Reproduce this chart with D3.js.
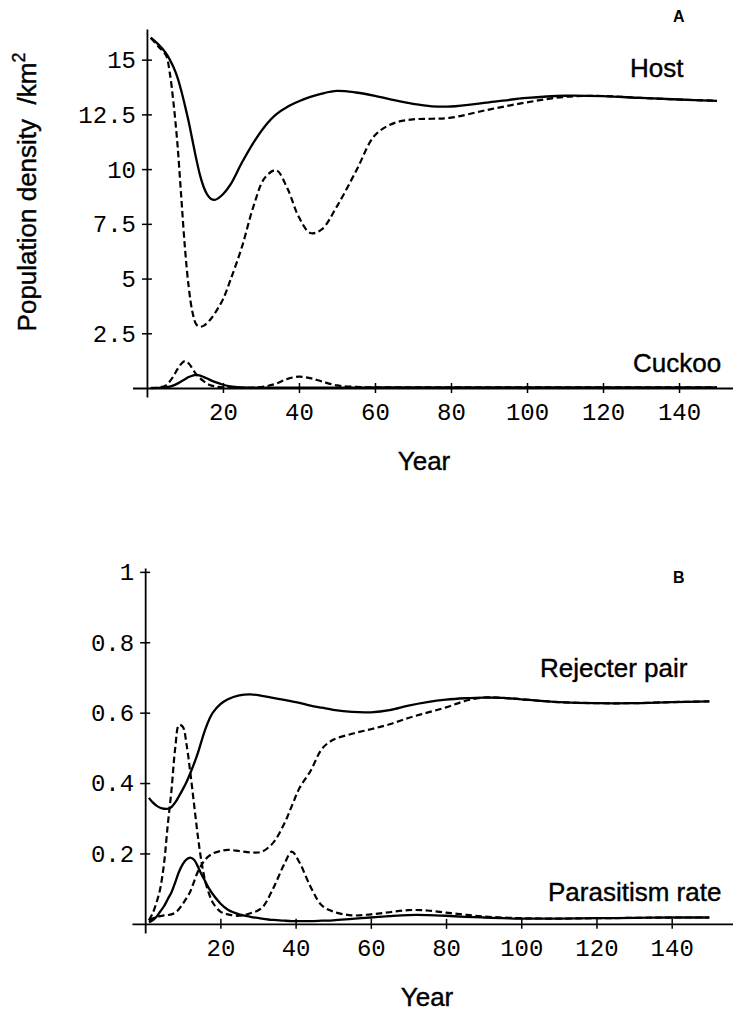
<html>
<head>
  <style>
    body {
      margin: 0;
      background: #ffffff;
    }

    .tick text {
      font-family: "Liberation Mono", "Courier New", monospace;
      font-size: 24px;
      fill: #000;
    }

    .lab {
      font-family: "Liberation Sans", Arial, Helvetica, sans-serif;
      font-size: 26px;
      fill: #000;
      stroke: #000;
      stroke-width: 0.4px;
    }

    .panel {
      font-family: "Liberation Sans", Arial, sans-serif;
      font-size: 16px;
      font-weight: bold;
    }

    .solid { fill: none; stroke: #000; stroke-width: 2.3px; }
    .dashed { fill: none; stroke: #000; stroke-width: 2.2px; stroke-dasharray: 6.5, 3.5; }
  </style>
</head>

<body>
  <div id="chart"></div>

  <script src="https://d3js.org/d3.v7.min.js"></script>
  <script>
    // panel A: population density
    var yearsA = [1, 3, 5, 6, 7, 8, 9, 10, 11, 12, 13, 14, 15, 16, 17, 18, 20, 22, 25, 28, 31, 34, 37, 40, 43, 46, 50, 55, 60, 65, 70, 75, 80, 90, 100, 110, 120, 130, 140, 150];
    var hostSolid = [16.0, 15.7, 15.3, 15.0, 14.65, 14.2, 13.6, 12.9, 12.15, 11.3, 10.45, 9.7, 9.15, 8.8, 8.62, 8.6, 8.85, 9.3, 10.3, 11.2, 11.95, 12.5, 12.85, 13.1, 13.3, 13.45, 13.57, 13.5, 13.35, 13.15, 12.98, 12.87, 12.86, 13.05, 13.25, 13.35, 13.33, 13.25, 13.18, 13.12];
    var hostDashed = [16.0, 15.6, 15.2, 14.4, 13.0, 11.2, 8.8, 6.4, 4.6, 3.45, 2.9, 2.8, 2.85, 3.0, 3.2, 3.45, 4.05, 4.95, 6.45, 8.28, 9.6, 9.95, 9.1, 7.8, 7.08, 7.25, 8.3, 9.9, 11.55, 12.1, 12.27, 12.3, 12.35, 12.72, 13.05, 13.3, 13.34, 13.25, 13.18, 13.12];
    var cuckooSolid = [0, 0.005, 0.03, 0.06, 0.12, 0.2, 0.3, 0.4, 0.5, 0.57, 0.6, 0.57, 0.5, 0.42, 0.34, 0.27, 0.15, 0.07, 0.03, 0.02, 0.015, 0.015, 0.015, 0.02, 0.02, 0.02, 0.02, 0.02, 0.025, 0.025, 0.025, 0.025, 0.025, 0.025, 0.03, 0.03, 0.03, 0.03, 0.03, 0.03];
    var cuckooDashed = [0, 0.02, 0.12, 0.3, 0.55, 0.85, 1.1, 1.23, 1.12, 0.88, 0.62, 0.44, 0.3, 0.18, 0.11, 0.07, 0.03, 0.015, 0.01, 0.02, 0.07, 0.2, 0.42, 0.52, 0.45, 0.3, 0.12, 0.05, 0.03, 0.03, 0.03, 0.03, 0.03, 0.03, 0.03, 0.03, 0.03, 0.03, 0.03, 0.03];
    var ticksXA = [20, 40, 60, 80, 100, 120, 140];
    var ticksYA = [2.5, 5, 7.5, 10, 12.5, 15];

    // panel B: rejecter pairs and parasitism rate
    var yearsB = [1, 2, 3, 4, 5, 6, 7, 8, 9, 10, 11, 12, 13, 14, 15, 16, 17, 18, 20, 22, 25, 28, 31, 34, 37, 39, 41, 44, 47, 50, 55, 60, 65, 70, 75, 80, 85, 90, 95, 100, 110, 120, 130, 140, 150];
    var rejSolid = [0.358, 0.345, 0.336, 0.33, 0.327, 0.327, 0.332, 0.345, 0.363, 0.382, 0.403, 0.428, 0.455, 0.485, 0.52, 0.553, 0.58, 0.6, 0.624, 0.638, 0.649, 0.652, 0.648, 0.642, 0.636, 0.632, 0.628, 0.62, 0.614, 0.608, 0.602, 0.601, 0.607, 0.62, 0.63, 0.637, 0.641, 0.643, 0.642, 0.638, 0.63, 0.627, 0.627, 0.63, 0.632];
    var rejDashed = [0.01, 0.015, 0.02, 0.022, 0.024, 0.025, 0.027, 0.032, 0.042, 0.057, 0.073, 0.092, 0.12, 0.148, 0.168, 0.183, 0.193, 0.2, 0.207, 0.21, 0.207, 0.203, 0.205, 0.23, 0.285, 0.335, 0.385, 0.435, 0.497, 0.523, 0.54, 0.553, 0.567, 0.585, 0.6, 0.615, 0.633, 0.643, 0.642, 0.638, 0.63, 0.627, 0.627, 0.63, 0.632];
    var parSolid = [0.005, 0.01, 0.02, 0.035, 0.05, 0.07, 0.09, 0.118, 0.148, 0.17, 0.183, 0.188, 0.182, 0.163, 0.14, 0.12, 0.1, 0.084, 0.058, 0.04, 0.027, 0.02, 0.015, 0.011, 0.009, 0.008, 0.008, 0.008, 0.009, 0.01, 0.014, 0.018, 0.022, 0.025, 0.025, 0.023, 0.02, 0.018, 0.016, 0.015, 0.015, 0.016, 0.017, 0.018, 0.018];
    var parDashed = [0.01, 0.03, 0.06, 0.1, 0.17, 0.28, 0.38, 0.5, 0.565, 0.56, 0.51, 0.43, 0.34, 0.25, 0.175, 0.12, 0.085, 0.06, 0.035, 0.027, 0.023, 0.03, 0.045, 0.1, 0.17, 0.205, 0.175, 0.105, 0.052, 0.035, 0.024, 0.027, 0.033, 0.039, 0.038, 0.032, 0.026, 0.021, 0.018, 0.016, 0.015, 0.016, 0.017, 0.018, 0.018];
    var ticksXB = [20, 40, 60, 80, 100, 120, 140];
    var ticksYB = [0.2, 0.4, 0.6, 0.8, 1];

    var width = 733, height = 1011;

    var svg = d3.select("#chart")
        .append("svg")
        .attr("width", width)
        .attr("height", height);

    function panel(opt) {
      var x = d3.scaleLinear().domain(opt.xDomain).range(opt.xRange);
      var y = d3.scaleLinear().domain(opt.yDomain).range(opt.yRange);
      var g = svg.append("g");

      var xAxis = g.append("g")
        .attr("transform", "translate(0," + y(0) + ")")
        .call(d3.axisBottom(x).tickValues(opt.xTicks).tickSizeOuter(0).tickFormat(d3.format("d")));
      xAxis.selectAll(".tick line").attr("y1", -5).attr("y2", 5).attr("stroke-width", 1.5);
      xAxis.selectAll(".tick text").attr("y", 32).attr("dy", 0);

      var yAxis = g.append("g")
        .attr("transform", "translate(" + x(0) + ",0)")
        .call(d3.axisLeft(y).tickValues(opt.yTicks).tickSizeOuter(0).tickFormat(opt.yFormat));
      yAxis.selectAll(".tick line").attr("x1", -5).attr("x2", 5).attr("stroke-width", 1.5);
      yAxis.selectAll(".tick text").attr("x", -11).attr("dy", "0.33em");

      g.selectAll(".domain").attr("stroke", "#000").attr("stroke-width", 1.8);
      g.selectAll(".tick line").attr("stroke", "#000");

      var line = function (vals) {
        return d3.line()
          .x(function (d, i) { return x(opt.years[i]); })
          .y(function (d) { return y(Math.max(0, d)); })
          .curve(d3.curveCatmullRom.alpha(0.5))(vals);
      };

      opt.series.forEach(function (s) {
        g.append("path").attr("class", s.cls).attr("d", line(s.values));
      });
      return g;
    }

    panel({
      xDomain: [-3.8, 154.2], xRange: [132.5, 733],
      yDomain: [-0.41, 16.4], yRange: [397, 29],
      xTicks: ticksXA, yTicks: ticksYA, yFormat: d3.format("~g"),
      years: yearsA,
      series: [
        { cls: "solid", values: hostSolid },
        { cls: "dashed", values: hostDashed },
        { cls: "solid", values: cuckooSolid },
        { cls: "dashed", values: cuckooDashed }
      ]
    });

    panel({
      xDomain: [-3.5, 156.3], xRange: [132, 733],
      yDomain: [-0.026, 1.011], yRange: [933, 568],
      xTicks: ticksXB, yTicks: ticksYB, yFormat: function (d) { return d === 1 ? "1" : d3.format(".1f")(d); },
      years: yearsB,
      series: [
        { cls: "solid", values: rejSolid },
        { cls: "dashed", values: rejDashed },
        { cls: "solid", values: parSolid },
        { cls: "dashed", values: parDashed }
      ]
    });

    // text labels
    var label = svg.append("text").attr("class", "lab")
      .attr("transform", "translate(36,192) rotate(-90)")
      .attr("text-anchor", "middle");
    label.append("tspan").text("Population density\u00a0\u00a0/km");
    label.append("tspan").attr("dy", -11).attr("font-size", 18).text("2");

    svg.append("text").attr("class", "lab").attr("x", 630).attr("y", 77).text("Host");
    svg.append("text").attr("class", "lab").attr("x", 633).attr("y", 372).text("Cuckoo");
    svg.append("text").attr("class", "lab").attr("x", 424).attr("y", 470).attr("text-anchor", "middle").text("Year");
    svg.append("text").attr("class", "panel").attr("x", 673).attr("y", 22).text("A");

    svg.append("text").attr("class", "lab").attr("x", 540).attr("y", 677).text("Rejecter pair");
    svg.append("text").attr("class", "lab").attr("x", 548).attr("y", 901).text("Parasitism rate");
    svg.append("text").attr("class", "lab").attr("x", 427).attr("y", 1006).attr("text-anchor", "middle").text("Year");
    svg.append("text").attr("class", "panel").attr("x", 673).attr("y", 583).text("B");
  </script>
</body>
</html>
